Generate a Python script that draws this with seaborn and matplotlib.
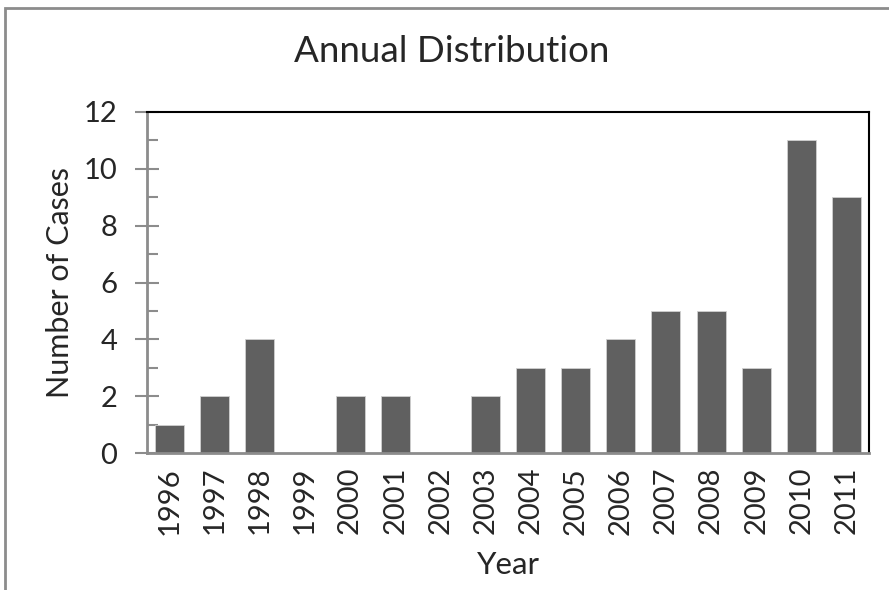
import matplotlib
matplotlib.use("Agg")
import matplotlib.pyplot as plt
import seaborn as sns
import pandas as pd
from matplotlib.patches import Rectangle
from matplotlib.ticker import MultipleLocator

years = ["1996", "1997", "1998", "1999", "2000", "2001", "2002", "2003",
         "2004", "2005", "2006", "2007", "2008", "2009", "2010", "2011"]
cases = [1, 2, 4, 0, 2, 2, 0, 2, 3, 3, 4, 5, 5, 3, 11, 9]

df = pd.DataFrame({"Year": years, "Cases": cases})

sns.set_theme(style="white")
plt.rcParams["font.family"] = ["Lato", "DejaVu Sans"]

fig = plt.figure(figsize=(8.89, 5.90), dpi=100)
W, H = 889, 590
ax = fig.add_axes([147 / W, 1 - 453 / H, (869 - 147) / W, (453 - 112) / H])

sns.barplot(data=df, x="Year", y="Cases", color="#606060", width=0.64,
            edgecolor="#d0d0d0", linewidth=0.6, saturation=1, ax=ax)

ax.set_ylim(0, 12)
ax.set_xlim(-0.5, len(years) - 0.5)
ax.yaxis.set_major_locator(MultipleLocator(2))
ax.yaxis.set_minor_locator(MultipleLocator(1))
ax.tick_params(axis="y", which="major", direction="inout", length=17, width=1.5,
               color="#8c8c8c", labelsize=21, pad=13, left=True)
ax.tick_params(axis="y", which="minor", direction="in", length=8, width=1.5,
               color="#8c8c8c", left=True)
ax.tick_params(axis="x", length=0, labelsize=21, pad=10)
plt.setp(ax.get_xticklabels(), rotation=90)

for s in ["left", "bottom"]:
    ax.spines[s].set_color("#8c8c8c")
    ax.spines[s].set_linewidth(2)
for s in ["top", "right"]:
    ax.spines[s].set_color("#000000")
    ax.spines[s].set_linewidth(1.5)

ax.set_xlabel("Year", fontsize=22.5, labelpad=12)
ax.set_ylabel("Number of Cases", fontsize=22, labelpad=7)
fig.text(452 / W, 1 - 52 / H, "Annual Distribution",
         fontsize=26.5, ha="center", va="center")

fig.patches.append(Rectangle((5 / W, -0.1), 1.2, 1 - 8 / H + 0.1,
                             transform=fig.transFigure, fill=False,
                             edgecolor="#8c8c8c", linewidth=2))

fig.savefig("out.png", dpi=100)
